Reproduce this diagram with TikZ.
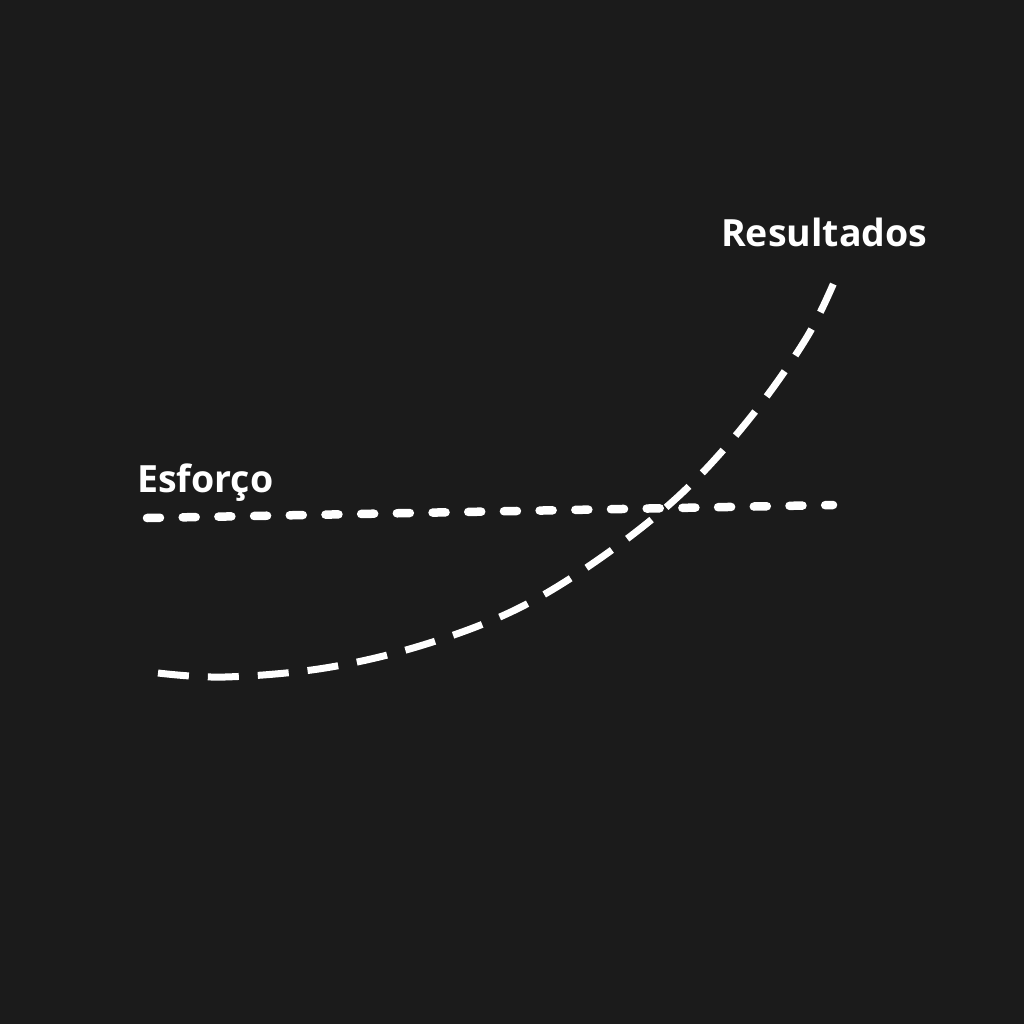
\documentclass[tikz,border=0pt]{standalone}
\usepackage{fontspec}
\setmainfont{Open Sans}
\usepackage{tikz}
\definecolor{bgdark}{HTML}{1B1B1B}
\tikzset{
  txt/.style = {inner sep=0pt, anchor=base west, text=white,
    font=\fontsize{37.5}{42}\selectfont\bfseries},
  effort/.style = {white, line width=8.5pt, line cap=round,
    dash pattern=on 13pt off 22.7pt},
  result/.style = {white, line width=7pt,
    dash pattern=on 31pt off 19pt}
}
\begin{document}
\begin{tikzpicture}[x=1pt, y=-1pt]
\fill [bgdark] (0,0) rectangle (1024,1024);
\useasboundingbox (0,0) rectangle (1024,1024);
\node [txt] (res) at (721,247) {Resultados};
\node [txt] (esf) at (137,492) {Esforço};
% esforco
\draw [effort] (147,518) -- (833,505);
% resultados
\draw [result] plot [smooth, tension=0.6] coordinates {(158,673) (225,677)
  (325,668) (423,645) (517,609) (602,557) (682,493) (750,418) (807,337)
  (838,273)};
\end{tikzpicture}
\end{document}
